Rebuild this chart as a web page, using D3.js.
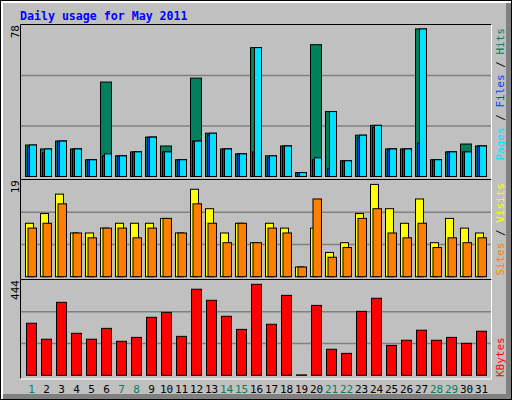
<!DOCTYPE html>
<html><head><meta charset="utf-8">
<script src="https://cdn.jsdelivr.net/npm/d3@7"></script>
<style>body{margin:0;background:#fff}svg{display:block}text{font-family:"DejaVu Sans Mono",monospace}</style>
</head><body><div id="chart"></div>
<script>
// Webalizer-style daily usage chart, May 2011
var days = d3.range(1, 32);
var weekend = [1, 7, 8, 14, 15, 21, 22, 28, 29];
var hits   = [16,14,18,14,8.5,48,10.5,12.5,20,15.5,8.5,50,22,14,11.5,65.5,10.5,15.5,2,67,33,8,21,26,14,14,75,8.5,12.5,16.5,15.5];
var files  = [15,12,18,14,8.5,10.5,10.5,12.5,20,12.5,8.5,18,21,14,11.5,12.5,9.5,15.5,2,8.5,4,8,20,25,14,14,17,8.5,12.5,12.5,15.5];
var pages  = [16,14,18,14,8.5,11.5,10.5,12.5,20,12.5,8.5,18,22,14,11.5,65.5,10.5,15.5,2,9.5,33,8,21,26,14,14,75,8.5,12.5,12.5,15.5];
var visits = [11,13,17,9,9,10,11,11,11,12,9,18,14,9,11,7,11,10,2,10,5,7,13,19,14,11,16,7,12,10,9];
var sites  = [10,11,15,9,8,10,10,8,10,12,9,15,11,7,11,7,10,9,2,16,4,6,12,14,9,8,11,6,8,7,8];
var kbytes = [254,176,356,205,176,229,166,185,283,307,190,420,366,288,224,444,249,390,2,341,127,107,312,376,146,171,220,171,185,156,215];
var maxLabels = ["78", "19", "444"];

var W = 512, H = 400;
var C = { hits: "#00805c", files: "#0040ff", pages: "#00e0ff", visits: "#ffff00",
          sites: "#ff8000", kbytes: "#ff0000", bg: "#c0c0c0", grid: "#808080" };

var svg = d3.select("#chart").append("svg").attr("width", W).attr("height", H);

// outer frame + bevel
svg.append("rect").attr("width", W).attr("height", H).attr("fill", "#000");
svg.append("rect").attr("x", 1).attr("y", 1).attr("width", W - 2).attr("height", H - 2).attr("fill", "#fff");
svg.append("rect").attr("x", 3).attr("y", 3).attr("width", W - 4).attr("height", H - 4).attr("fill", C.grid);
svg.append("rect").attr("x", 3).attr("y", 3).attr("width", W - 9).attr("height", H - 9).attr("fill", C.bg);

svg.append("text").attr("x", 20).attr("y", 20).attr("fill", "#0000ff")
  .style("font-size", "11.6px").style("font-weight", "bold").text("Daily usage for May 2011");

var x0 = 21, x1 = 491;
var x = d3.scaleLinear().domain([1, 32]).range([25, 25 + 15 * 31]);

var panels = [
  { top: 25, bottom: 176.5, frameBot: 179, max: 77 },
  { top: 180, bottom: 276.7, frameBot: 279, max: 19 * 96.7 / 92.3 },
  { top: 280, bottom: 375.3, frameBot: 378.5, max: 444 * 95.3 / 91 }
];

panels.forEach(function (p, i) {
  p.y = d3.scaleLinear().domain([0, p.max]).range([p.bottom, p.top]);
  var g = svg.append("g");
  var h = p.bottom - p.top;
  [1 / 3, 2 / 3].forEach(function (f) {
    g.append("line").attr("x1", x0).attr("x2", x1)
      .attr("y1", p.bottom - h * f).attr("y2", p.bottom - h * f)
      .attr("stroke", C.grid).attr("stroke-width", 1.5);
  });
  // inset frame
  g.append("path").attr("d", "M" + (x0 - 0.5) + "," + p.frameBot + "V" + (p.top - 0.5) + "H" + (x1 + 0.5))
    .attr("fill", "none").attr("stroke", "#000").attr("stroke-width", 1);
  g.append("path").attr("d", "M" + (x1 + 0.5) + "," + (p.top - 0.5) + "V" + (p.frameBot + 0.5) + "H" + (x0 - 0.5))
    .attr("fill", "none").attr("stroke", "#fff").attr("stroke-width", 1);
  svg.append("text").attr("transform", "translate(19," + p.top + ") rotate(-90)")
    .attr("text-anchor", "end").attr("fill", "#000").style("font-size", "11px").text(maxLabels[i]);
  p.g = g;
});

function bars(p, data, dx, w, color) {
  p.g.selectAll(null).data(data).enter().append("rect")
    .attr("x", function (d, i) { return x(days[i]) + dx; })
    .attr("y", function (d) { return p.y(d); })
    .attr("width", w)
    .attr("height", function (d) { return p.bottom - p.y(d); })
    .attr("fill", color).attr("stroke", "#000").attr("stroke-width", 1);
}
bars(panels[0], hits, 0.5, 11, C.hits);
bars(panels[0], files, 2.5, 9, C.files);
bars(panels[0], pages, 4.5, 7, C.pages);
bars(panels[1], visits, 0.5, 8, C.visits);
bars(panels[1], sites, 3, 8.5, C.sites);
bars(panels[2], kbytes, 1.5, 10, C.kbytes);

// day labels
svg.selectAll(null).data(days).enter().append("text")
  .attr("x", function (d) { return x(d) + 6.5; }).attr("y", 393)
  .attr("text-anchor", "middle").style("font-size", "11px")
  .attr("fill", function (d) { return weekend.indexOf(d) >= 0 ? "#00805c" : "#000"; })
  .text(function (d) { return d; });

// right legends
function legend(y, anchor, parts) {
  var t = svg.append("text").attr("transform", "translate(504," + y + ") rotate(-90)")
    .attr("text-anchor", anchor).style("font-size", "11px");
  parts.forEach(function (p) { t.append("tspan").attr("fill", p[1]).text(p[0]); });
}
legend(28, "end", [["Pages", C.pages], [" / ", "#000"], ["Files", C.files], [" / ", "#000"], ["Hits", C.hits]]);
legend(183, "end", [["Sites", C.sites], [" / ", "#000"], ["Visits", C.visits]]);
legend(377, "start", [["KBytes", C.kbytes]]);
</script></body></html>
